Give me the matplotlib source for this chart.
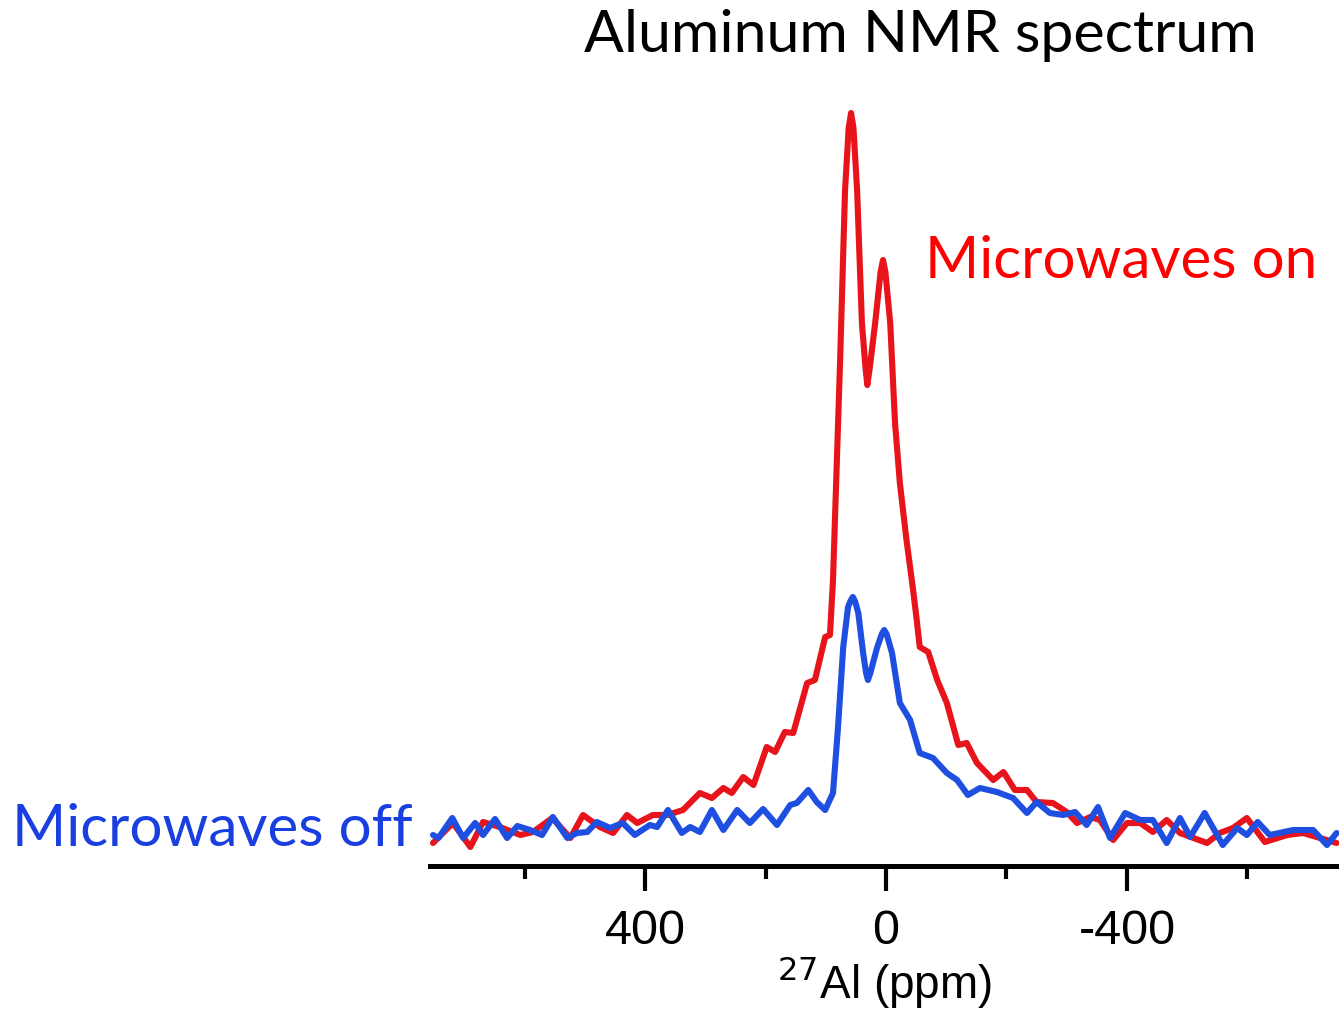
import matplotlib
matplotlib.use("Agg")
import matplotlib.pyplot as plt
from matplotlib.ticker import MultipleLocator

# chemical shift (ppm) and intensity (arbitrary units)
red_ppm = [752, 719, 690, 669, 641, 607, 586, 554, 524, 503, 475, 453, 430, 413, 387, 363, 337, 309, 289,
           270, 256, 237, 220, 198, 184, 168, 154, 131, 118, 101, 93, 88, 76, 68, 62, 58, 54, 48, 40, 34, 31,
           27, 18, 9, 5, 1, -7, -15, -23, -34, -45, -51, -56, -70, -85, -101, -120, -134, -151, -178, -195,
           -214, -234, -250, -277, -300, -317, -339, -355, -377, -400, -422, -443, -466, -488, -533, -554,
           -576, -599, -629, -666, -692, -715, -748]
red_int = [23, 43, 19, 44, 39, 31, 34, 48, 28, 51, 39, 33, 51, 43, 51, 51, 56, 73, 68,
           78, 73, 89, 81, 119, 114, 134, 133, 183, 186, 229, 231, 286, 509, 676, 738, 753, 738, 676, 543, 498, 481,
           498, 543, 594, 606, 594, 543, 443, 383, 326, 276, 246, 219, 214, 186, 163, 121, 123, 103, 86, 94,
           76, 76, 64, 63, 54, 43, 49, 46, 26, 43, 43, 34, 46, 33, 23, 33,
           38, 48, 24, 31, 33, 29, 23]

blue_ppm = [752, 743, 720, 702, 682, 669, 649, 629, 612, 591, 571, 553, 529, 513, 496, 480, 458, 437, 417,
            392, 380, 362, 339, 325, 309, 289, 270, 247, 226, 204, 181, 159, 148, 129, 115, 101, 88, 80,
            71, 63, 59, 55, 51, 46, 38, 33, 30, 26, 15, 7, 3, -1, -10, -23, -40, -56, -78, -101, -118, -136,
            -156, -184, -211, -234, -250, -272, -294, -314, -333, -352, -372, -397, -422, -443, -466, -488,
            -505, -529, -559, -583, -599, -617, -637, -676, -709, -732, -748]
blue_int = [31, 28, 48, 28, 43, 31, 47, 28, 40, 36, 31, 49, 28, 33, 34, 44, 38, 43, 31,
            41, 39, 56, 33, 39, 34, 56, 36, 56, 43, 57, 41, 61, 63, 76, 64, 56, 73, 136,
            219, 259, 265, 269, 264, 253, 213, 193, 186, 193, 218, 232, 236, 232, 213, 163, 146, 113, 108, 93, 86, 71,
            78, 74, 68, 53, 64, 53, 51, 54, 41, 59, 28, 53, 46, 46, 23, 48,
            29, 53, 21, 38, 31, 44, 31, 36, 36, 21, 33]

major_ticks = [400, 0, -400]
major_labels = ["400", "0", "-400"]

fig = plt.figure(figsize=(13.39, 10.10), dpi=100)
ax = fig.add_axes([430 / 1339, 1 - 866 / 1010, 1 - 430 / 1339, (866 - 100) / 1010])

ax.plot(red_ppm, red_int, color="#e8141b", lw=4.4, solid_joinstyle="round", solid_capstyle="round")
ax.plot(blue_ppm, blue_int, color="#1f4fe0", lw=4.4, solid_joinstyle="round", solid_capstyle="round")

ax.set_xlim(757, -752)
ax.set_ylim(0, 766)
for s in ["top", "right", "left"]:
    ax.spines[s].set_visible(False)
ax.spines["bottom"].set_linewidth(3.6)
ax.set_yticks([])
ax.set_xticks(major_ticks)
ax.set_xticklabels(major_labels, family="Liberation Sans", fontsize=35)
ax.xaxis.set_minor_locator(MultipleLocator(200))
ax.tick_params(axis="x", which="major", length=18, width=3, pad=13)
ax.tick_params(axis="x", which="minor", length=9, width=3)
ax.set_xlabel(r"$^{27}$Al (ppm)", family="Liberation Sans", fontsize=33, labelpad=0)

fig.text(920 / 1339, 1 - 35 / 1010, "Aluminum NMR spectrum", family="Lato", fontsize=42.5,
         ha="center", va="center", color="black")
fig.text(1121 / 1339, 1 - 262 / 1010, "Microwaves on", family="Lato", fontsize=42,
         ha="center", va="center", color="#ff0000")
fig.text(212 / 1339, 1 - 830 / 1010, "Microwaves off", family="Lato", fontsize=42,
         ha="center", va="center", color="#1a3fe0")

fig.savefig("out.png", dpi=100)
